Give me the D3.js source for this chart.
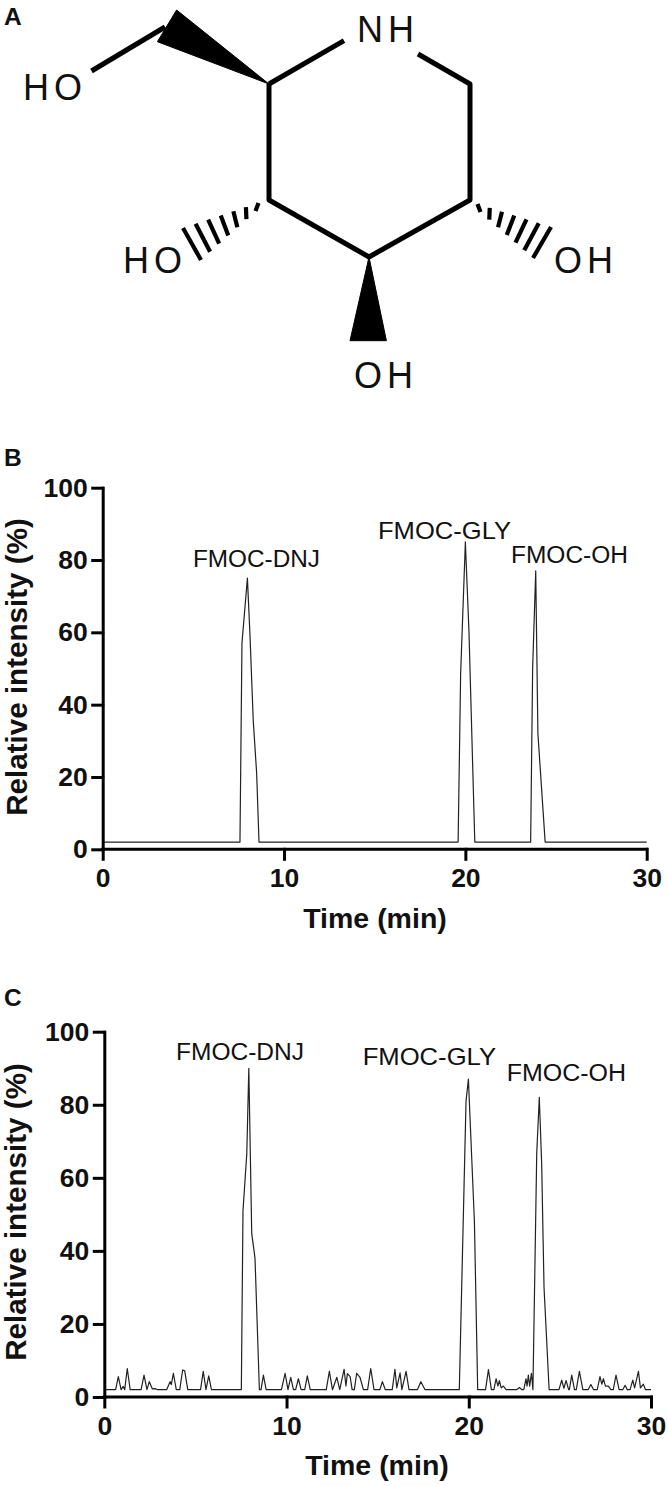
<!DOCTYPE html>
<html>
<head>
<meta charset="utf-8">
<script src="https://cdn.jsdelivr.net/npm/d3@7"></script>
<style>
  body { margin: 0; background: #fff; }
  text { font-family: "Liberation Sans", Arial, sans-serif; fill: #111; }
  .axis path, .axis line { stroke: #000; stroke-width: 3; stroke-linecap: square; }
  .axis text { font-size: 26.5px; font-weight: bold; font-family: "Liberation Sans", Arial, sans-serif; }
</style>
</head>
<body>
<div id="figure"></div>
<script>
// Chromatogram values
var xTicks = [0, 10, 20, 30];
var yTicks = [0, 20, 40, 60, 80, 100];

var timeB = [0, 7.57, 7.68, 7.98, 8.12, 8.3, 8.49, 8.62,
  19.6, 19.74, 20, 20.2, 20.52,
  23.6, 23.71, 23.88, 24, 24.12, 24.4, 30];
var intensityB = [2, 2, 57, 75, 59.5, 35.8, 21, 2,
  2, 48.7, 85, 60, 2,
  2, 50, 77, 32, 23, 2, 2];

var timeC = [0, 0.62, 0.77, 0.92, 1.04, 1.12, 1.26, 1.42,
  2.02, 2.18, 2.34, 2.47, 2.64, 2.78, 2.92,
  3.42, 3.61, 3.68, 3.79, 3.95, 4.14, 4.3, 4.41, 4.58,
  5.28, 5.43, 5.58, 5.73, 5.88,
  7.52, 7.61, 7.82, 7.93, 8.09, 8.27, 8.51,
  8.6, 8.73, 8.88,
  9.72, 9.92, 10.08, 10.23, 10.38, 10.5, 10.65, 10.8, 11, 11.14, 11.3,
  12.18, 12.35, 12.52, 12.76, 12.92, 13.16, 13.26, 13.34, 13.49, 13.6,
  13.72, 13.85, 14.03, 14.22, 14.45, 14.62, 14.8, 15.12, 15.26, 15.42,
  15.8, 15.95, 16.05, 16.23, 16.33, 16.56, 16.72,
  17.18, 17.37, 17.6,
  19.48, 19.85, 19.98, 20.31, 20.49,
  20.92, 21.08, 21.24,
  21.38, 21.5, 21.6, 21.68, 21.78, 21.9, 22.05,
  22.62, 22.78, 22.92,
  23.02, 23.14, 23.2, 23.27, 23.34, 23.44,
  23.52, 23.73, 23.87, 24, 24.13, 24.41,
  24.95, 25.1, 25.22, 25.34, 25.48,
  25.52, 25.65, 25.8, 25.9, 26.07, 26.26, 26.55, 26.7, 26.85,
  27.05, 27.2, 27.3, 27.39, 27.5, 27.66, 27.8,
  27.93, 28.08, 28.25, 28.45, 28.58, 28.7,
  28.85, 29, 29.1, 29.31, 29.42, 29.58, 29.7, 30];
var intensityC = [2, 2, 5.6, 2, 2.9, 2, 7.8, 2,
  2, 6, 2, 4.2, 2.2, 2.3, 2,
  2, 4.2, 3.4, 6.5, 2, 2, 7.4, 7.2, 2,
  2, 7, 2, 5.8, 2,
  2, 51, 66.7, 90, 44.8, 38, 2,
  2, 6, 2,
  2, 6.5, 2, 5.4, 2, 2, 5, 2, 2, 5.8, 2,
  2, 7, 2, 5.4, 2, 7.6, 3, 6.4, 5.6, 2,
  2, 6.5, 5.4, 2, 2, 7.8, 2, 2, 4.2, 2,
  2, 7.6, 2.5, 6.6, 2, 7, 2,
  2, 4.2, 2,
  2, 81, 87, 48, 2,
  2, 7.5, 2,
  2, 5, 3, 4.5, 2.5, 3, 2,
  2, 2.6, 2,
  2, 5, 3, 6, 3, 6.5,
  2, 66.7, 82, 64, 30, 2,
  2, 4.6, 2.4, 4.5, 2,
  2, 6, 2, 2, 7, 2, 2, 3.4, 2,
  2, 5.6, 3.5, 5, 3, 3, 2,
  2, 6, 2, 2, 3.2, 2,
  2, 4.6, 2.5, 7, 2.5, 3.5, 2, 2];

var svg = d3.select("#figure").append("svg")
  .attr("width", 668)
  .attr("height", 1486);

// Panel letters
[["A", 4, 25], ["B", 4, 466], ["C", 4, 1006]].forEach(function (d) {
  svg.append("text")
    .attr("x", d[1])
    .attr("y", d[2])
    .attr("font-size", 24.5)
    .attr("font-weight", "bold")
    .text(d[0]);
});

// Structure in panel A
var bondLine = d3.line();
var bonds = [
  [[91.5, 71], [165, 27]],
  [[269, 84], [344, 40.7]],
  [[418, 54], [470, 84], [470, 200], [369, 257], [269, 200], [269, 84]]
];
bonds.forEach(function (b) {
  svg.append("path")
    .attr("d", bondLine(b))
    .attr("fill", "none")
    .attr("stroke", "#000")
    .attr("stroke-width", 5)
    .attr("stroke-linejoin", "round");
});

var wedges = [
  [[269, 84], [176.6, 10], [157.4, 41.7]],
  [[369, 257], [350, 340.7], [386.4, 340.7]]
];
wedges.forEach(function (w) {
  svg.append("path")
    .attr("d", bondLine(w) + "Z")
    .attr("fill", "#000")
    .attr("stroke", "#000")
    .attr("stroke-width", 1)
    .attr("stroke-linejoin", "round");
});

// Hashed bonds, widening from the first stroke to the last one
var hashes = [
  { first: [[258.5, 203], [255.5, 211]], last: [[183, 228], [201, 260]] },
  { first: [[477.5, 204], [480.5, 212]], last: [[551, 227], [533, 258]] }
];
hashes.forEach(function (h) {
  d3.range(7).forEach(function (i) {
    var t = i / 6;
    var a = d3.interpolate(h.first[0], h.last[0])(t);
    var b = d3.interpolate(h.first[1], h.last[1])(t);
    svg.append("line")
      .attr("x1", a[0]).attr("y1", a[1])
      .attr("x2", b[0]).attr("y2", b[1])
      .attr("stroke", "#000")
      .attr("stroke-width", 4.2);
  });
});

[["HO", 23, 100], ["NH", 357, 42], ["HO", 123, 272.7], ["OH", 554, 272.7], ["OH", 354, 388]].forEach(function (d) {
  svg.append("text")
    .attr("x", d[1])
    .attr("y", d[2])
    .attr("font-size", 36)
    .attr("letter-spacing", 5)
    .text(d[0]);
});

// One chromatogram panel
function drawPanel(opts) {
  var x = d3.scaleLinear().domain([0, 30]).range(opts.xRange);
  var y = d3.scaleLinear().domain([0, 100]).range(opts.yRange);

  var g = svg.append("g");

  g.append("path")
    .attr("d", d3.line()
      .x(function (d, i) { return x(opts.time[i]); })
      .y(function (d) { return y(d); })(opts.intensity))
    .attr("fill", "none")
    .attr("stroke", "#222")
    .attr("stroke-width", 1.2)
    .attr("stroke-linejoin", "round");

  g.append("g")
    .attr("class", "axis")
    .attr("transform", "translate(0," + opts.yRange[0] + ")")
    .call(d3.axisBottom(x).tickValues(xTicks).tickSize(10).tickSizeOuter(0).tickPadding(9))
    .select(".domain").attr("d", "M" + opts.xRange[0] + ",0H" + opts.xRange[1]);

  g.append("g")
    .attr("class", "axis")
    .attr("transform", "translate(" + opts.xRange[0] + ",0)")
    .call(d3.axisLeft(y).tickValues(yTicks).tickSize(10).tickSizeOuter(0).tickPadding(5));

  g.append("text")
    .attr("x", opts.xTitle[0])
    .attr("y", opts.xTitle[1])
    .attr("text-anchor", "middle")
    .attr("font-size", 28.5)
    .attr("font-weight", "bold")
    .text("Time (min)");

  g.append("text")
    .attr("transform", "translate(" + opts.yTitle[0] + "," + opts.yTitle[1] + ") rotate(-90)")
    .attr("text-anchor", "middle")
    .attr("font-size", 29.6)
    .attr("font-weight", "bold")
    .text("Relative intensity (%)");

  // Peak labels are fitted to the width they have in the picture
  opts.labels.forEach(function (d) {
    g.append("text")
      .attr("x", d[1])
      .attr("y", d[2])
      .attr("font-size", 24.3)
      .attr("textLength", d[3])
      .attr("lengthAdjust", "spacingAndGlyphs")
      .text(d[0]);
  });
}

drawPanel({
  time: timeB,
  intensity: intensityB,
  xRange: [102.7, 646.7],
  yRange: [849.3, 487.7],
  xTitle: [375, 928],
  yTitle: [27, 667],
  labels: [["FMOC-DNJ", 193, 566.7, 127], ["FMOC-GLY", 378, 539.3, 133], ["FMOC-OH", 511, 562.7, 117]]
});

drawPanel({
  time: timeC,
  intensity: intensityC,
  xRange: [104.3, 651],
  yRange: [1397, 1031.7],
  xTitle: [377, 1475],
  yTitle: [26, 1212],
  labels: [["FMOC-DNJ", 176, 1060, 128], ["FMOC-GLY", 362.7, 1065, 133.3], ["FMOC-OH", 506.7, 1080.7, 119.3]]
});
</script>
</body>
</html>
